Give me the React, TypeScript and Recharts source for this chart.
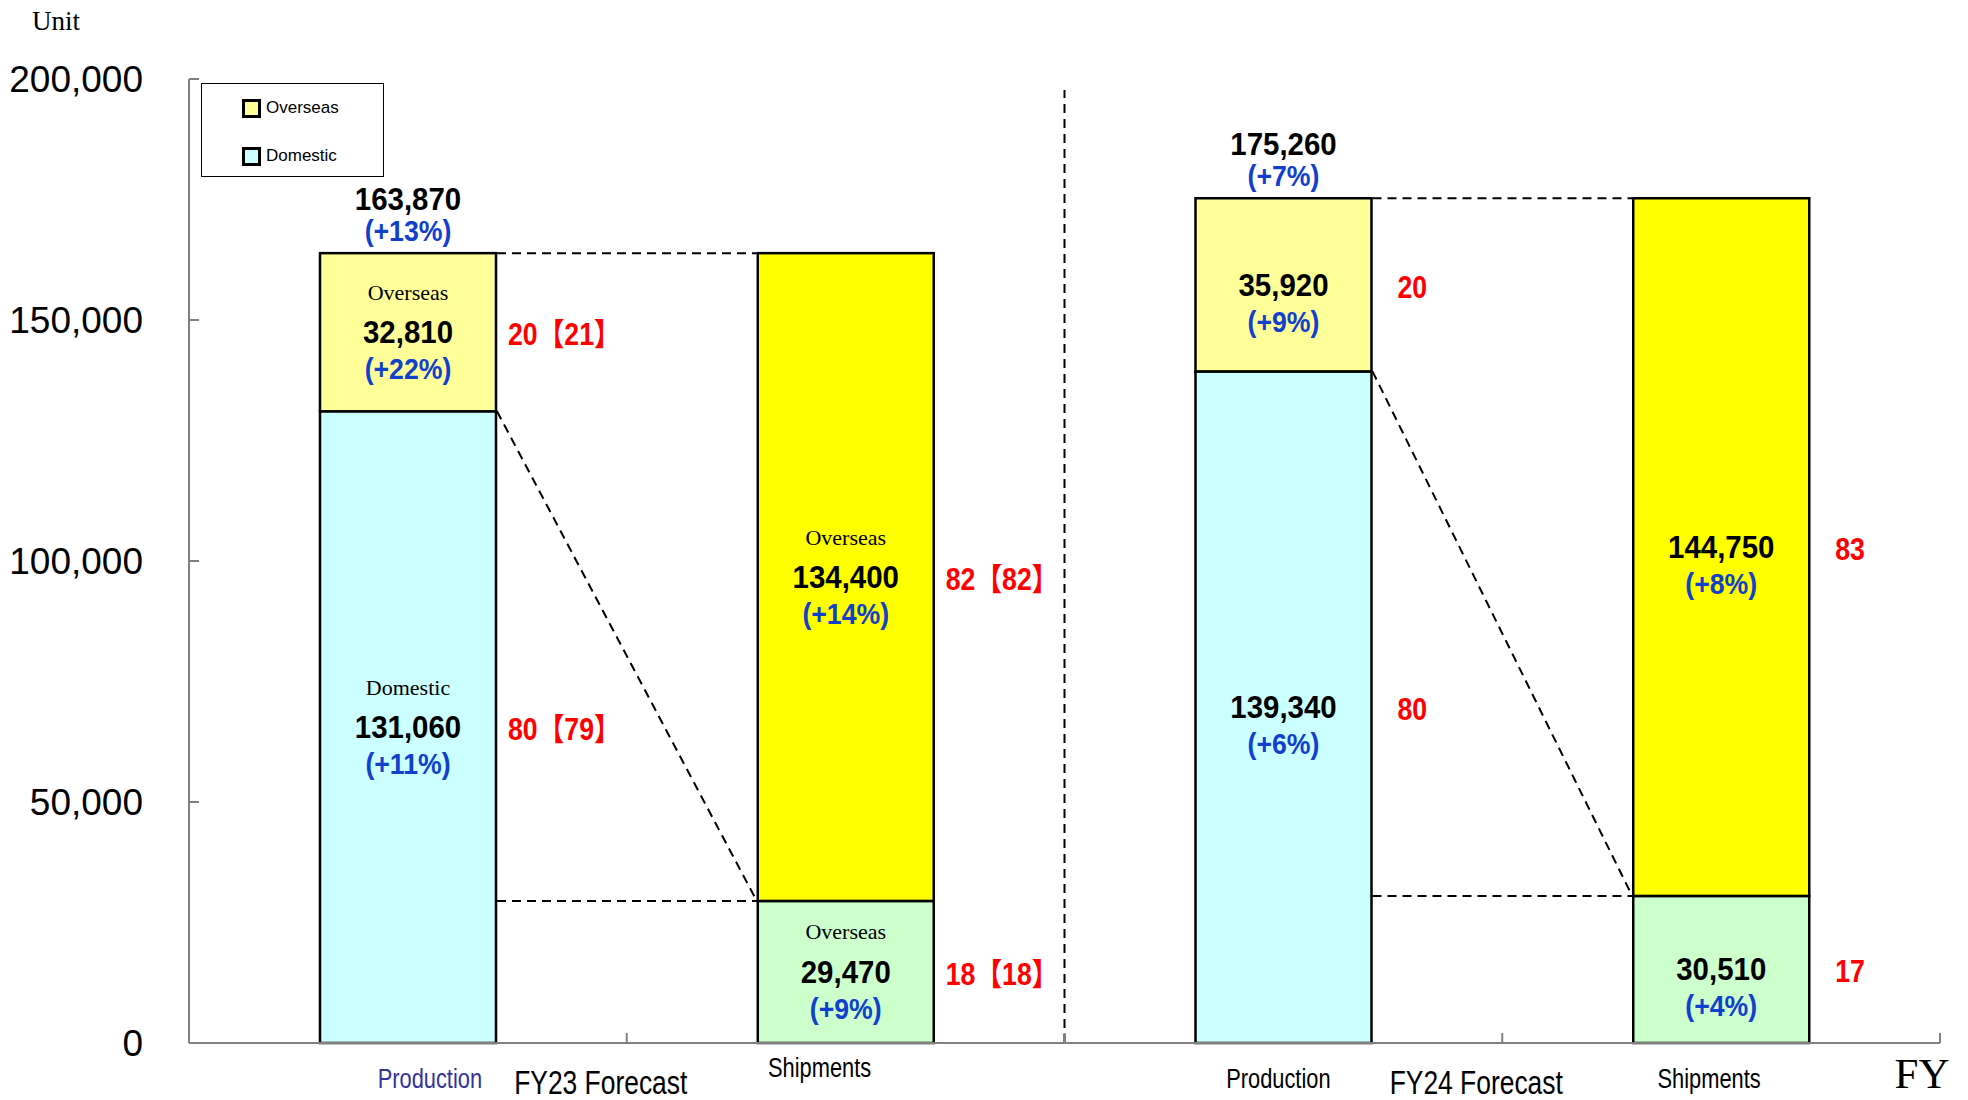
import React from 'react';
import { BarChart, Bar, XAxis, YAxis, Cell, LabelList, ReferenceLine } from 'recharts';

// ---------- data ----------
const categories = ['Production FY23', 'Shipments FY23', 'Production FY24', 'Shipments FY24'];
const axisLabels = ['Production', 'Shipments', 'Production', 'Shipments'];
const periodLabels = ['FY23 Forecast', '', 'FY24 Forecast', ''];
const lowerValues = [131060, 29470, 139340, 30510];
const upperValues = [32810, 134400, 35920, 144750];
const lowerGrowth = ['(+11%)', '(+9%)', '(+6%)', '(+4%)'];
const upperGrowth = ['(+22%)', '(+14%)', '(+9%)', '(+8%)'];
const totalGrowth = ['(+13%)', '', '(+7%)', ''];
const lowerShare = ['80【79】', '18【18】', '80', '17'];
const upperShare = ['20【21】', '82【82】', '20', '83'];
const lowerNames = ['Domestic', 'Overseas', '', ''];
const upperNames = ['Overseas', 'Overseas', '', ''];
const yTicks = [0, 50000, 100000, 150000, 200000];
const legendItems = ['Overseas', 'Domestic'];
const separatorTop = 197700;

// ---------- styles ----------
const lowerColors = ['#CCFFFF', '#CCFFCC', '#CCFFFF', '#CCFFCC'];
const upperColors = ['#FFFF99', '#FFFF00', '#FFFF99', '#FFFF00'];
const legendColors = ['#FFFF99', '#CCFFFF'];
const axisLabelColors = ['#333399', '#000', '#000', '#000'];
const axisLabelDx = [22, -26, -5, -12];
const axisLabelDy = [35, 24, 35, 35];
const SANS = "'Liberation Sans', Arial, 'Noto Sans CJK JP', sans-serif";
const SERIF = "'Liberation Serif', 'Times New Roman', serif";
const BLUE = '#1040CC';
const RED = '#FF0000';
const GRAY = '#808080';

const W = 1968;
const H = 1100;
const PLOT_LEFT = 189;
const PLOT_RIGHT = 1940;
const BAND = (PLOT_RIGHT - PLOT_LEFT) / 4;
const BAR = 176;

const data = categories.map((c, i) => ({
  name: c,
  lower: lowerValues[i],
  upper: upperValues[i],
  total: lowerValues[i] + upperValues[i],
}));

const fmt = (v: number) => v.toLocaleString('en-US');

const Txt = ({ x, y, size, fill = '#000', weight = 'normal', family = SANS, sx = 1, anchor = 'middle', children }: any) => (
  <text
    transform={`translate(${x},${y}) scale(${sx},1)`}
    textAnchor={anchor}
    dominantBaseline="central"
    fontSize={size}
    fill={fill}
    fontWeight={weight}
    fontFamily={family}
  >
    {children}
  </text>
);

const geom = (props: any) => {
  const vb = props.viewBox || {};
  const x = props.x ?? vb.x;
  const y = props.y ?? vb.y;
  const width = props.width ?? vb.width;
  const height = props.height ?? vb.height;
  return { x: Number(x), y: Number(y), width: Number(width), height: Number(height) };
};

const segmentLabels = (props: any, names: string[], growth: string[], share: string[]) => {
  const { index } = props;
  const { x, y, width, height } = geom(props);
  const cx = x + width / 2;
  const cy = y + height / 2;
  const value = props.value;
  const s = share[index];
  const dx = s.includes('【') ? 12 : 26;
  return (
    <g>
      {names[index] ? (
        <Txt x={cx} y={cy - 40} size={22} family={SERIF}>{names[index]}</Txt>
      ) : null}
      <Txt x={cx} y={cy} size={31} weight="bold" sx={0.95}>{fmt(Array.isArray(value) ? value[1] - value[0] : value)}</Txt>
      <Txt x={cx} y={cy + 37} size={29} weight="bold" sx={0.92} fill={BLUE}>{growth[index]}</Txt>
      <Txt x={x + width + dx} y={cy + 2} size={31} weight="bold" sx={0.86} fill={RED} anchor="start">{s}</Txt>
    </g>
  );
};

const renderLower = (props: any) => segmentLabels(props, lowerNames, lowerGrowth, lowerShare);

const renderUpper = (props: any) => {
  const { index } = props;
  const { x, y, width } = geom(props);
  const cx = x + width / 2;
  return (
    <g>
      {segmentLabels(props, upperNames, upperGrowth, upperShare)}
      {totalGrowth[index] ? (
        <g>
          <Txt x={cx} y={y - 54} size={31} weight="bold" sx={0.95}>{fmt(data[index].total)}</Txt>
          <Txt x={cx} y={y - 22} size={29} weight="bold" sx={0.92} fill={BLUE}>{totalGrowth[index]}</Txt>
        </g>
      ) : null}
    </g>
  );
};

const UpperShape = (props: any) => {
  const { x, y, width, height, index, payload } = props;
  const ppu = height / payload.upper;
  const yOf = (v: number) => y + height + (payload.lower - v) * ppu;
  const rect = (
    <rect x={x} y={y} width={width} height={height} fill={upperColors[index]} stroke="#000" strokeWidth={2.5} />
  );
  if (index % 2 === 0) return rect;
  const prev = data[index - 1];
  const px = x - (BAND - width);
  const dash = { stroke: '#000', strokeWidth: 2, strokeDasharray: '9 6', fill: 'none' };
  return (
    <g>
      <line x1={px + 1} y1={yOf(prev.total)} x2={x - 1} y2={y} {...dash} />
      <line x1={px + 1} y1={y + height} x2={x - 1} y2={y + height} {...dash} />
      <line x1={px + 1} y1={yOf(prev.lower)} x2={x - 1} y2={y + height} {...dash} />
      {rect}
    </g>
  );
};

const YTick = (props: any) => {
  const { x, y, payload } = props;
  return (
    <g>
      <line x1={x} x2={x + 10} y1={y} y2={y} stroke={GRAY} strokeWidth={2} />
      <text x={x - 46} y={y} textAnchor="end" dominantBaseline="central" fontSize={37} fontFamily={SANS} fill="#000">
        {fmt(payload.value)}
      </text>
    </g>
  );
};

const XTick = (props: any) => {
  const { x, y, index } = props;
  const edge = x + BAND / 2;
  return (
    <g>
      <line x1={edge} x2={edge} y1={y} y2={y - 10} stroke={GRAY} strokeWidth={2} />
      <Txt x={x + axisLabelDx[index]} y={y + axisLabelDy[index]} size={28} sx={0.78} fill={axisLabelColors[index]}>
        {axisLabels[index]}
      </Txt>
      {periodLabels[index] ? (
        <Txt x={edge - 26} y={y + 39} size={33} sx={0.8}>{periodLabels[index]}</Txt>
      ) : null}
      {index === categories.length - 1 ? (
        <text x={edge - 18} y={y + 45} textAnchor="middle" fontSize={43} fontFamily={SERIF} fill="#000">FY</text>
      ) : null}
    </g>
  );
};

export default function App() {
  return (
    <div style={{ position: 'absolute', left: 0, top: 0, width: W, height: H, background: '#fff' }}>
      <BarChart
        width={W}
        height={H}
        data={data}
        margin={{ top: 79, right: W - PLOT_RIGHT, bottom: 0, left: 0 }}
        barSize={BAR}
      >
        <XAxis
          dataKey="name"
          height={57}
          interval={0}
          tickSize={0}
          tickMargin={0}
          tickLine={false}
          axisLine={{ stroke: GRAY, strokeWidth: 2 }}
          tick={<XTick />}
        />
        <YAxis
          type="number"
          width={PLOT_LEFT}
          domain={[0, 200000]}
          ticks={yTicks}
          interval={0}
          tickSize={0}
          tickMargin={0}
          tickLine={false}
          axisLine={{ stroke: GRAY, strokeWidth: 2 }}
          tick={<YTick />}
        />
        <ReferenceLine
          segment={[
            { x: categories[1], y: 0 },
            { x: categories[1], y: separatorTop },
          ]}
          position="end"
          stroke="#000"
          strokeWidth={2}
          strokeDasharray="9 6"
          ifOverflow="visible"
        />
        <Bar dataKey="lower" stackId="s" isAnimationActive={false} stroke="#000" strokeWidth={2.5}>
          {data.map((d, i) => (
            <Cell key={d.name} fill={lowerColors[i]} />
          ))}
          <LabelList dataKey="lower" content={renderLower} />
        </Bar>
        <Bar dataKey="upper" stackId="s" isAnimationActive={false} shape={<UpperShape />}>
          <LabelList dataKey="upper" content={renderUpper} />
        </Bar>
      </BarChart>
      <div
        style={{
          position: 'absolute',
          left: 32,
          top: 6,
          fontFamily: SERIF,
          fontSize: 27,
          lineHeight: '30px',
          color: '#000',
        }}
      >
        Unit
      </div>
      <div
        style={{
          position: 'absolute',
          left: 201,
          top: 83,
          width: 183,
          height: 94,
          border: '1.5px solid #000',
          background: '#fff',
          boxSizing: 'border-box',
        }}
      >
        {legendItems.map((name, i) => (
          <div
            key={name}
            style={{
              position: 'absolute',
              left: 40,
              top: i === 0 ? 13 : 61,
              display: 'flex',
              alignItems: 'center',
              height: 22,
            }}
          >
            <div
              style={{
                width: 19,
                height: 19,
                boxSizing: 'border-box',
                border: '3px solid #000',
                background: legendColors[i],
                marginRight: 5,
              }}
            />
            <span style={{ fontFamily: SANS, fontSize: 17, color: '#000' }}>{name}</span>
          </div>
        ))}
      </div>
    </div>
  );
}
